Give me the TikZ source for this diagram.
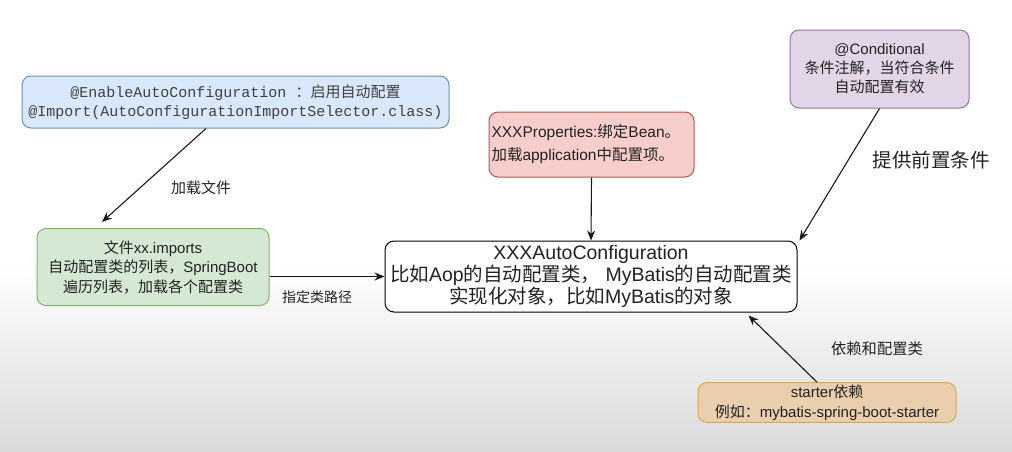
\documentclass[tikz,border=0pt]{standalone}
\usepackage{fontspec}
\setmainfont{Liberation Sans}
\setmonofont{Liberation Mono}
\newfontfamily\zh{Noto Sans CJK SC}
\usetikzlibrary{arrows.meta,calc}
\definecolor{bfill}{HTML}{DAE8FC}\definecolor{bline}{HTML}{6C8EBF}
\definecolor{gfill}{HTML}{D5E8D4}\definecolor{gline}{HTML}{82B366}
\definecolor{rfill}{HTML}{F8CECC}\definecolor{rline}{HTML}{B85450}
\definecolor{pfill}{HTML}{E1D5E7}\definecolor{pline}{HTML}{9673A6}
\definecolor{ofill}{RGB}{234,207,174}\definecolor{oline}{RGB}{214,168,78}
\definecolor{txt}{HTML}{222222}
\definecolor{bgbot}{RGB}{218,218,218}
\tikzset{
  box/.style={rounded corners=9pt, line width=1pt, inner sep=2pt, align=center, text=txt},
  arr/.style={line width=1.1pt, -{Stealth[length=10pt,width=8pt]}, draw=black!90},
  lbl/.style={text=txt, inner sep=0pt}
}
\begin{document}
\begin{tikzpicture}[x=1pt,y=-1pt]
\useasboundingbox (0,0) rectangle (1012,451);
\fill[white] (0,0) rectangle (1012,451);
\shade[top color=white, bottom color=bgbot] (0,265) rectangle (1012,451);

\node[box, fill=bfill, draw=bline, minimum width=427pt, minimum height=52pt,
      font=\ttfamily\fontsize{15}{19}\selectfont, text=black!75] (blue) at (235.5,102)
  {@EnableAutoConfiguration {\zh ：启用自动配置}\\@Import(AutoConfigurationImportSelector.class)};

\node[box, fill=gfill, draw=gline, minimum width=232pt, minimum height=77pt,
      font=\fontsize{15}{19.5}\selectfont] (green) at (153,267)
  {{\zh 文件}xx.imports\\{\zh 自动配置类的列表，}SpringBoot\\{\zh 遍历列表，加载各个配置类}};

\node[box, fill=rfill, draw=rline, minimum width=205pt, minimum height=65pt,
      text width=200pt, align=left, inner sep=2pt,
      font=\fontsize{15.5}{23}\selectfont] (red) at (591.5,144.5)
  {XXXProperties:{\zh 绑定}Bean{\zh 。}\\{\zh 加载}application{\zh 中配置项。}};

\node[box, fill=pfill, draw=pline, minimum width=179pt, minimum height=78pt,
      font=\fontsize{15}{19}\selectfont] (purple) at (879.5,69)
  {@Conditional\\{\zh 条件注解，当符合条件}\\{\zh 自动配置有效}};

\node[box, fill=white, draw=black, minimum width=412pt, minimum height=71pt,
      font=\fontsize{19.5}{22}\selectfont] (main) at (591,276.5)
  {XXXAutoConfiguration\\{\zh 比如}Aop{\zh 的自动配置类，} MyBatis{\zh 的自动配置类}\\{\zh 实现化对象，比如}MyBatis{\zh 的对象}};

\node[box, fill=ofill, draw=oline, minimum width=258pt, minimum height=39pt,
      font=\fontsize{15}{20}\selectfont] (orange) at (827,402.5)
  {starter{\zh 依赖}\\{\zh 例如：}mybatis-spring-boot-starter};

\draw[arr] ([xshift=-29.5pt]blue.south) -- ([xshift=-51pt,yshift=6pt]green.north);
\draw[arr] (green.east |- main.west) -- (main.west);
\draw[arr] (red.south) -- (main.north);
\draw[arr] (purple.south) -- ([xshift=2pt]main.north east);
\draw[arr] ([xshift=-10pt]orange.north) -- ([xshift=-49pt,yshift=-3pt]main.south east);

\node[lbl, font=\zh\fontsize{15}{15}\selectfont] (l1) at (201,188) {加载文件};
\node[lbl, font=\zh\fontsize{14}{14}\selectfont] (l2) at (317,297) {指定类路径};
\node[lbl, font=\zh\fontsize{19.5}{19.5}\selectfont] (l3) at (931,160) {提供前置条件};
\node[lbl, font=\zh\fontsize{15.3}{15.3}\selectfont] (l4) at (877,349) {依赖和配置类};
\end{tikzpicture}
\end{document}
